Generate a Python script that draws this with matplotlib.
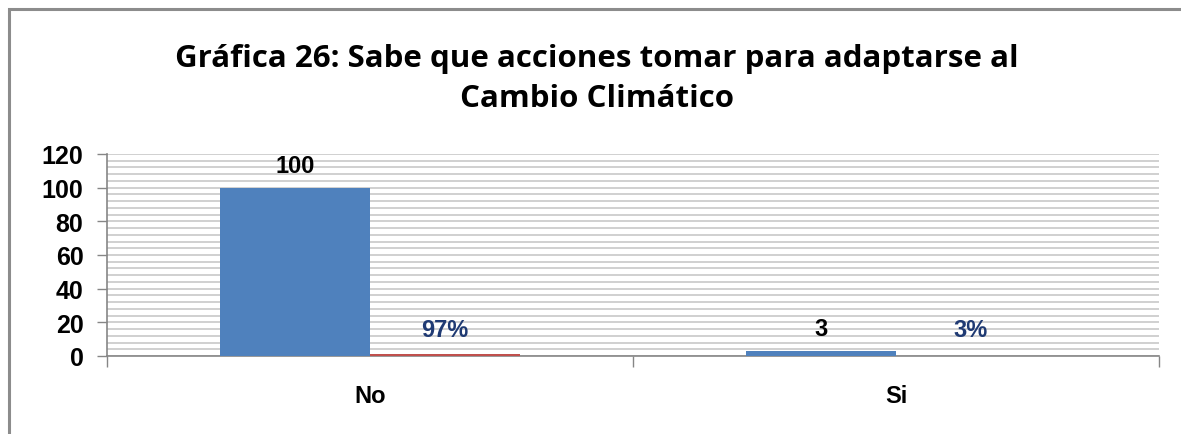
import numpy as np
import matplotlib
matplotlib.use("Agg")
import matplotlib.pyplot as plt
from matplotlib.patches import Rectangle

categories = ["No", "Si"]
counts = [100, 3]
shares = [0.97, 0.03]
share_labels = ["97%", "3%"]

TITLE = "Gráfica 26: Sabe que acciones tomar para adaptarse al\nCambio Climático"
BLUE = "#4F81BD"
RED = "#C0504D"
NAVY = "#1F3A73"
GRID = "#C4C4C4"
AXIS = "#868686"

plt.rcParams["font.family"] = ["Liberation Sans", "DejaVu Sans"]

fig = plt.figure(figsize=(11.81, 4.35), dpi=100)
fig.patches.append(Rectangle((9 / 1181, -0.1), 1.2, 1 - 10 / 435 + 0.1,
                             transform=fig.transFigure, fill=False,
                             edgecolor="#8C8C8C", linewidth=2.2))

ax = fig.add_axes([107 / 1181, 1 - 357 / 435, 1052 / 1181, 202 / 435])

x = np.arange(len(categories))
w = 0.285
ax.bar(x - w / 2, counts, width=w, color=BLUE, zorder=3)
ax.bar(x + w / 2, shares, width=w, color=RED, zorder=3)

for xi, c in zip(x, counts):
    ax.annotate(str(c), (xi - w / 2, c), xytext=(0, 16), textcoords="offset points",
                ha="center", va="center", fontsize=17, fontweight="bold", color="black")
for xi, s in zip(x, share_labels):
    ax.text(xi + w / 2, 16, s, ha="center", va="center", fontsize=17,
            fontweight="bold", color=NAVY)

ax.set_xlim(-0.5, 1.5)
ax.set_ylim(0, 120)
ax.set_yticks(np.arange(0, 121, 20))
ax.set_yticks(np.arange(0, 121, 4), minor=True)
ax.yaxis.grid(True, which="both", color=GRID, linewidth=1.1, zorder=0)
ax.set_axisbelow(True)

ax.set_xticks([-0.5, 0.5, 1.5])
ax.set_xticklabels([])
ax.set_xticks(x, minor=True)
ax.set_xticklabels(categories, minor=True)
ax.tick_params(axis="x", which="major", length=8, color=AXIS, width=1)
ax.tick_params(axis="x", which="minor", length=0, pad=20, labelsize=17)
ax.tick_params(axis="y", which="major", length=7, color=AXIS, width=1, labelsize=18, pad=10)
ax.tick_params(axis="y", which="minor", length=0)
for lbl in ax.get_xticklabels(minor=True) + ax.get_yticklabels():
    lbl.set_fontweight("bold")

for side in ("top", "right"):
    ax.spines[side].set_visible(False)
for side in ("left", "bottom"):
    ax.spines[side].set_color(AXIS)
    ax.spines[side].set_linewidth(1.2)

fig.text(597 / 1181, 1 - 79 / 435, TITLE, ha="center", va="center",
         fontsize=22.5, fontweight="bold", linespacing=1.4,
         family=["Open Sans", "DejaVu Sans"])

fig.savefig("out.png", dpi=100)
